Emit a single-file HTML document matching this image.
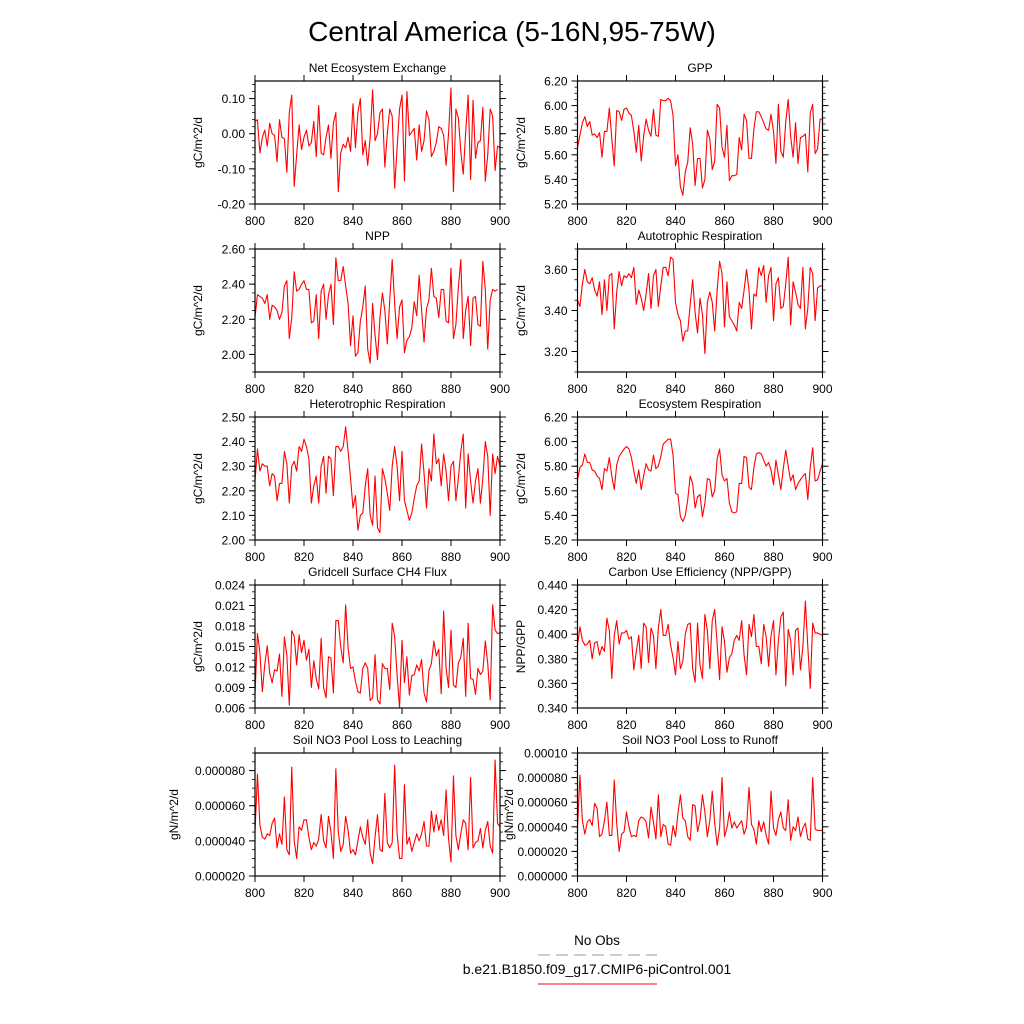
<!DOCTYPE html>
<html><head><meta charset="utf-8"><style>
html,body{margin:0;padding:0;background:#fff;}
svg{display:block;font-family:"Liberation Sans",Arial,sans-serif;}
</style></head><body>
<svg id="chart" width="1024" height="1024" viewBox="0 0 1024 1024" xmlns="http://www.w3.org/2000/svg">
<rect width="1024" height="1024" fill="#fff"/>
<text x="512" y="41" font-size="28" text-anchor="middle">Central America (5-16N,95-75W)</text>
<g>
<text x="597" y="945" font-size="13.5" text-anchor="middle">No Obs</text>
<line x1="538" y1="955" x2="657" y2="955" stroke="#999" stroke-width="1" stroke-dasharray="12,6"/>
<text x="597" y="974" font-size="14" text-anchor="middle">b.e21.B1850.f09_g17.CMIP6-piControl.001</text>
<line x1="538" y1="984" x2="657" y2="984" stroke="#f00" stroke-width="1"/>
</g>
</svg>
<script>
const years = [800, 820, 840, 860, 880, 900];
const neeVals = [0.035,0.04,-0.055,-0.01,0.01,-0.035,0.03,0.0,-0.005,-0.08,0.04,-0.01,-0.015,-0.11,0.06,0.11,-0.15,-0.06,0.025,-0.045,-0.01,0.01,-0.035,-0.025,0.035,-0.065,0.08,-0.055,-0.06,-0.01,0.025,-0.07,0.03,0.06,-0.165,-0.055,-0.03,-0.04,-0.01,-0.05,0.085,-0.04,0.06,0.1,-0.06,-0.02,-0.09,-0.01,0.125,-0.02,0.0,0.06,0.07,-0.095,0.0,0.07,0.05,-0.155,-0.04,0.07,0.11,-0.135,0.12,-0.005,0.005,0.015,-0.075,0.025,-0.05,-0.02,0.065,0.04,-0.065,-0.05,-0.025,0.02,0.015,-0.005,-0.09,0.0,0.13,-0.165,0.07,0.045,-0.05,-0.115,0.005,0.11,-0.13,0.095,-0.07,-0.025,-0.02,0.075,-0.135,-0.06,0.07,0.05,-0.105,-0.035,-0.04];
const gppVals = [5.66,5.76,5.86,5.91,5.83,5.87,5.76,5.77,5.74,5.78,5.58,5.79,5.79,5.98,5.73,5.51,5.96,5.95,5.88,5.97,5.98,5.94,5.92,5.79,5.62,5.84,5.55,5.75,5.89,5.80,5.75,5.97,5.76,5.75,6.05,6.04,6.04,6.06,6.04,5.92,5.51,5.60,5.34,5.27,5.46,5.54,5.82,5.69,5.35,5.57,5.57,5.33,5.40,5.80,5.73,5.48,5.55,6.01,5.98,5.66,5.58,5.84,5.39,5.43,5.43,5.44,5.74,5.64,5.93,5.88,5.57,5.57,5.81,5.95,5.95,5.91,5.86,5.81,5.80,5.93,5.79,5.53,6.01,5.63,5.58,5.87,6.05,5.75,5.58,5.86,5.53,5.74,5.75,5.77,5.46,5.94,6.01,5.61,5.65,5.89,5.89];
const nppVals = [2.21,2.34,2.33,2.32,2.29,2.34,2.20,2.28,2.27,2.25,2.20,2.24,2.39,2.42,2.09,2.21,2.47,2.36,2.37,2.40,2.42,2.37,2.37,2.18,2.19,2.34,2.09,2.36,2.40,2.20,2.34,2.40,2.17,2.55,2.42,2.42,2.50,2.39,2.29,2.05,2.22,1.99,2.01,2.19,2.27,2.39,2.03,1.95,2.29,2.11,1.97,2.21,2.35,2.25,2.06,2.31,2.54,2.29,2.09,2.27,2.31,2.01,2.08,2.10,2.15,2.30,2.22,2.45,2.25,2.07,2.26,2.31,2.49,2.33,2.32,2.21,2.37,2.37,2.19,2.18,2.49,2.09,2.17,2.38,2.54,2.09,2.25,2.33,2.05,2.32,2.33,2.17,2.16,2.53,2.37,2.03,2.31,2.37,2.36,2.37];
const arVals = [3.45,3.42,3.53,3.60,3.54,3.53,3.56,3.50,3.47,3.54,3.38,3.55,3.40,3.57,3.58,3.31,3.49,3.59,3.52,3.57,3.56,3.58,3.56,3.61,3.43,3.50,3.46,3.40,3.48,3.58,3.41,3.57,3.60,3.42,3.52,3.61,3.61,3.57,3.66,3.65,3.44,3.38,3.35,3.25,3.30,3.30,3.43,3.55,3.39,3.29,3.46,3.38,3.19,3.44,3.49,3.44,3.30,3.50,3.64,3.58,3.32,3.54,3.37,3.35,3.33,3.30,3.44,3.41,3.50,3.60,3.50,3.31,3.48,3.47,3.61,3.57,3.62,3.44,3.57,3.61,3.35,3.53,3.56,3.41,3.42,3.53,3.66,3.33,3.54,3.49,3.43,3.41,3.61,3.31,3.41,3.61,3.58,3.35,3.51,3.52,3.52];
const hrVals = [2.24,2.37,2.28,2.31,2.30,2.30,2.22,2.27,2.26,2.16,2.23,2.23,2.36,2.31,2.15,2.30,2.32,2.28,2.38,2.36,2.41,2.38,2.33,2.15,2.22,2.26,2.15,2.30,2.34,2.19,2.34,2.33,2.18,2.38,2.38,2.36,2.38,2.46,2.36,2.25,2.13,2.18,2.04,2.10,2.11,2.22,2.29,2.10,2.06,2.26,2.05,2.03,2.29,2.25,2.19,2.12,2.30,2.38,2.30,2.16,2.36,2.16,2.12,2.08,2.11,2.17,2.22,2.24,2.39,2.27,2.13,2.29,2.24,2.43,2.31,2.33,2.22,2.35,2.28,2.16,2.30,2.32,2.16,2.25,2.36,2.43,2.13,2.35,2.24,2.15,2.24,2.29,2.15,2.25,2.40,2.34,2.10,2.35,2.27,2.34,2.30];
const erVals = [5.69,5.79,5.81,5.90,5.83,5.83,5.77,5.76,5.72,5.70,5.61,5.78,5.76,5.87,5.72,5.61,5.81,5.88,5.91,5.94,5.96,5.94,5.87,5.76,5.66,5.77,5.61,5.72,5.82,5.77,5.76,5.89,5.78,5.80,5.88,5.98,6.00,6.02,6.02,5.89,5.58,5.57,5.39,5.35,5.40,5.53,5.72,5.66,5.46,5.55,5.57,5.39,5.50,5.70,5.69,5.55,5.60,5.86,5.94,5.73,5.68,5.70,5.50,5.43,5.42,5.43,5.66,5.66,5.88,5.87,5.63,5.61,5.79,5.90,5.91,5.90,5.85,5.80,5.83,5.77,5.65,5.85,5.73,5.61,5.78,5.93,5.80,5.68,5.73,5.61,5.66,5.69,5.72,5.74,5.53,5.79,5.95,5.68,5.69,5.76,5.82];
const ch4Vals = [0.0080,0.0169,0.0141,0.0084,0.0124,0.0151,0.0111,0.0097,0.0116,0.0114,0.0139,0.0077,0.0164,0.0137,0.0064,0.0173,0.0165,0.0123,0.0167,0.0141,0.0159,0.0130,0.0146,0.0090,0.0129,0.0103,0.0088,0.0162,0.0090,0.0075,0.0135,0.0133,0.0082,0.0188,0.0188,0.0149,0.0126,0.0211,0.0148,0.0118,0.0120,0.0099,0.0084,0.0082,0.0118,0.0126,0.0118,0.0071,0.0075,0.0138,0.0072,0.0066,0.0125,0.0118,0.0118,0.0087,0.0184,0.0165,0.0108,0.0060,0.0159,0.0097,0.0135,0.0079,0.0107,0.0109,0.0123,0.0114,0.0131,0.0082,0.0069,0.0115,0.0125,0.0158,0.0136,0.0146,0.0081,0.0202,0.0118,0.0090,0.0174,0.0094,0.0090,0.0126,0.0134,0.0162,0.0077,0.0184,0.0103,0.0102,0.0080,0.0118,0.0109,0.0114,0.0158,0.0125,0.0072,0.0211,0.0174,0.0169,0.0170];
const cueVals = [0.391,0.406,0.395,0.391,0.392,0.395,0.380,0.393,0.394,0.383,0.390,0.386,0.413,0.403,0.364,0.399,0.411,0.392,0.401,0.401,0.403,0.396,0.398,0.371,0.386,0.399,0.372,0.409,0.406,0.377,0.405,0.399,0.372,0.405,0.420,0.399,0.399,0.408,0.391,0.381,0.367,0.394,0.372,0.378,0.400,0.408,0.409,0.372,0.361,0.409,0.375,0.364,0.416,0.403,0.372,0.411,0.420,0.392,0.363,0.406,0.394,0.369,0.381,0.384,0.395,0.399,0.395,0.411,0.383,0.367,0.408,0.398,0.416,0.390,0.390,0.376,0.408,0.398,0.374,0.399,0.411,0.367,0.395,0.414,0.418,0.358,0.404,0.395,0.367,0.403,0.405,0.371,0.390,0.427,0.390,0.356,0.409,0.401,0.401,0.400,0.399];
const leachVals = [45,78,49,42,41,44,43,50,53,36,44,38,65,35,32,82,40,30,48,46,52,52,42,35,39,37,41,55,40,36,54,45,30,81,45,34,38,54,46,33,35,32,40,48,42,38,52,33,27,42,55,35,34,67,39,36,39,83,44,30,30,72,38,42,34,39,44,40,44,51,37,37,57,45,55,46,52,43,69,41,28,77,43,35,44,52,50,35,76,36,39,40,47,36,46,51,37,33,86,50,48];
const runoffVals = [39,82,45,34,44,46,41,59,55,32,34,45,60,33,33,78,43,20,34,36,52,40,32,33,32,45,48,47,44,31,56,44,30,66,32,42,40,26,25,41,32,51,66,47,45,32,29,58,57,36,45,66,52,32,45,69,43,25,39,80,32,39,52,39,44,39,42,45,34,40,72,42,38,26,45,36,44,33,26,69,39,33,46,52,39,37,62,29,40,37,48,32,39,43,30,29,80,38,37,37,37];

const panels = [
 {name:'net-ecosystem-exchange', title:'Net Ecosystem Exchange', col:0,row:0, ymin:-0.2,ymax:0.15, ticks:[-0.2,-0.1,0,0.1], labels:['-0.20','-0.10','0.00','0.10'], minor:0.02, ylab:'gC/m^2/d', data:neeVals, scale:1},
 {name:'gpp', title:'GPP', col:1,row:0, ymin:5.2,ymax:6.2, ticks:[5.2,5.4,5.6,5.8,6.0,6.2], labels:['5.20','5.40','5.60','5.80','6.00','6.20'], minor:0.05, ylab:'gC/m^2/d', data:gppVals, scale:1},
 {name:'npp', title:'NPP', col:0,row:1, ymin:1.9,ymax:2.6, ticks:[2.0,2.2,2.4,2.6], labels:['2.00','2.20','2.40','2.60'], minor:0.05, ylab:'gC/m^2/d', data:nppVals, scale:1},
 {name:'autotrophic-respiration', title:'Autotrophic Respiration', col:1,row:1, ymin:3.1,ymax:3.7, ticks:[3.2,3.4,3.6], labels:['3.20','3.40','3.60'], minor:0.05, ylab:'gC/m^2/d', data:arVals, scale:1},
 {name:'heterotrophic-respiration', title:'Heterotrophic Respiration', col:0,row:2, ymin:2.0,ymax:2.5, ticks:[2.0,2.1,2.2,2.3,2.4,2.5], labels:['2.00','2.10','2.20','2.30','2.40','2.50'], minor:0.02, ylab:'gC/m^2/d', data:hrVals, scale:1},
 {name:'ecosystem-respiration', title:'Ecosystem Respiration', col:1,row:2, ymin:5.2,ymax:6.2, ticks:[5.2,5.4,5.6,5.8,6.0,6.2], labels:['5.20','5.40','5.60','5.80','6.00','6.20'], minor:0.05, ylab:'gC/m^2/d', data:erVals, scale:1},
 {name:'ch4-flux', title:'Gridcell Surface CH4 Flux', col:0,row:3, ymin:0.006,ymax:0.024, ticks:[0.006,0.009,0.012,0.015,0.018,0.021,0.024], labels:['0.006','0.009','0.012','0.015','0.018','0.021','0.024'], minor:0.001, ylab:'gC/m^2/d', data:ch4Vals, scale:1},
 {name:'carbon-use-efficiency', title:'Carbon Use Efficiency (NPP/GPP)', col:1,row:3, ymin:0.34,ymax:0.44, ticks:[0.34,0.36,0.38,0.40,0.42,0.44], labels:['0.340','0.360','0.380','0.400','0.420','0.440'], minor:0.005, ylab:'NPP/GPP', data:cueVals, scale:1},
 {name:'no3-leaching', title:'Soil NO3 Pool Loss to Leaching', col:0,row:4, ymin:20,ymax:90, ticks:[20,40,60,80], labels:['0.000020','0.000040','0.000060','0.000080'], minor:5, ylab:'gN/m^2/d', data:leachVals, scale:1, ylx:178},
 {name:'no3-runoff', title:'Soil NO3 Pool Loss to Runoff', col:1,row:4, ymin:0,ymax:100, ticks:[0,20,40,60,80,100], labels:['0.000000','0.000020','0.000040','0.000060','0.000080','0.00010'], minor:5, ylab:'gN/m^2/d', data:runoffVals, scale:1, ylx:513}
];
const NS='http://www.w3.org/2000/svg';
const svg=document.getElementById('chart');
function mk(tag, attrs, parent){const e=document.createElementNS(NS,tag);for(const k in attrs)e.setAttribute(k,attrs[k]);parent.appendChild(e);return e;}
const colX=[255,577.5], W=245, H=123, rowY=[81,249,417,585,753];
panels.forEach(p=>{
  const x0=colX[p.col], y0=rowY[p.row];
  const g=mk('g',{},svg);
  
  
  const xs=v=>x0+(v-800)/100*W;
  const ys=v=>y0+H-(v-p.ymin)/(p.ymax-p.ymin)*H;
  const t=mk('text',{x:x0+W/2,y:y0-9,'font-size':12,'text-anchor':'middle'},g);
  
  
  t.textContent=p.title;
  for(let v=p.ymin; v<=p.ymax+1e-9; v+=p.minor){
    const y=ys(v);
    mk('line',{x1:x0-3,y1:y,x2:x0,y2:y,stroke:'#000','stroke-width':0.8},g);
    mk('line',{x1:x0+W,y1:y,x2:x0+W+3,y2:y,stroke:'#000','stroke-width':0.8},g);
  }
  p.ticks.forEach((v,i)=>{
    const y=ys(v);
    mk('line',{x1:x0-6,y1:y,x2:x0,y2:y,stroke:'#000','stroke-width':1},g);
    mk('line',{x1:x0+W,y1:y,x2:x0+W+6,y2:y,stroke:'#000','stroke-width':1},g);
    const l=mk('text',{x:x0-10,y:y+4.5,'font-size':12,'text-anchor':'end'},g);
    
    
    l.textContent=p.labels[i];
  });
  years.forEach(yr=>{
    const x=xs(yr);
    mk('line',{x1:x,y1:y0-6,x2:x,y2:y0,stroke:'#000','stroke-width':1},g);
    mk('line',{x1:x,y1:y0+H,x2:x,y2:y0+H+6,stroke:'#000','stroke-width':1},g);
    const l=mk('text',{x:x,y:y0+H+21,'font-size':12,'text-anchor':'middle'},g);
    
    
    l.textContent=yr;
  });
  const lx=p.ylx!==undefined?p.ylx:(p.col===0?202:525);
  const yl=mk('text',{x:lx,y:y0+H/2,'font-size':12,'text-anchor':'middle',transform:`rotate(-90 ${lx} ${y0+H/2})`},g);
  
  
  yl.textContent=p.ylab;
  const pts=p.data.map((v,i)=>xs(800+i).toFixed(2)+','+ys(v*p.scale).toFixed(2)).join(' ');
  const line=mk('polyline',{points:pts,fill:'none',stroke:'#f00','stroke-width':1.1,'stroke-linejoin':'round'},g);
  
  
  const fr=mk('rect',{x:x0,y:y0,width:W,height:H,fill:'none',stroke:'#000','stroke-width':1.2},g);
  
  
});
</script>
</body></html>
